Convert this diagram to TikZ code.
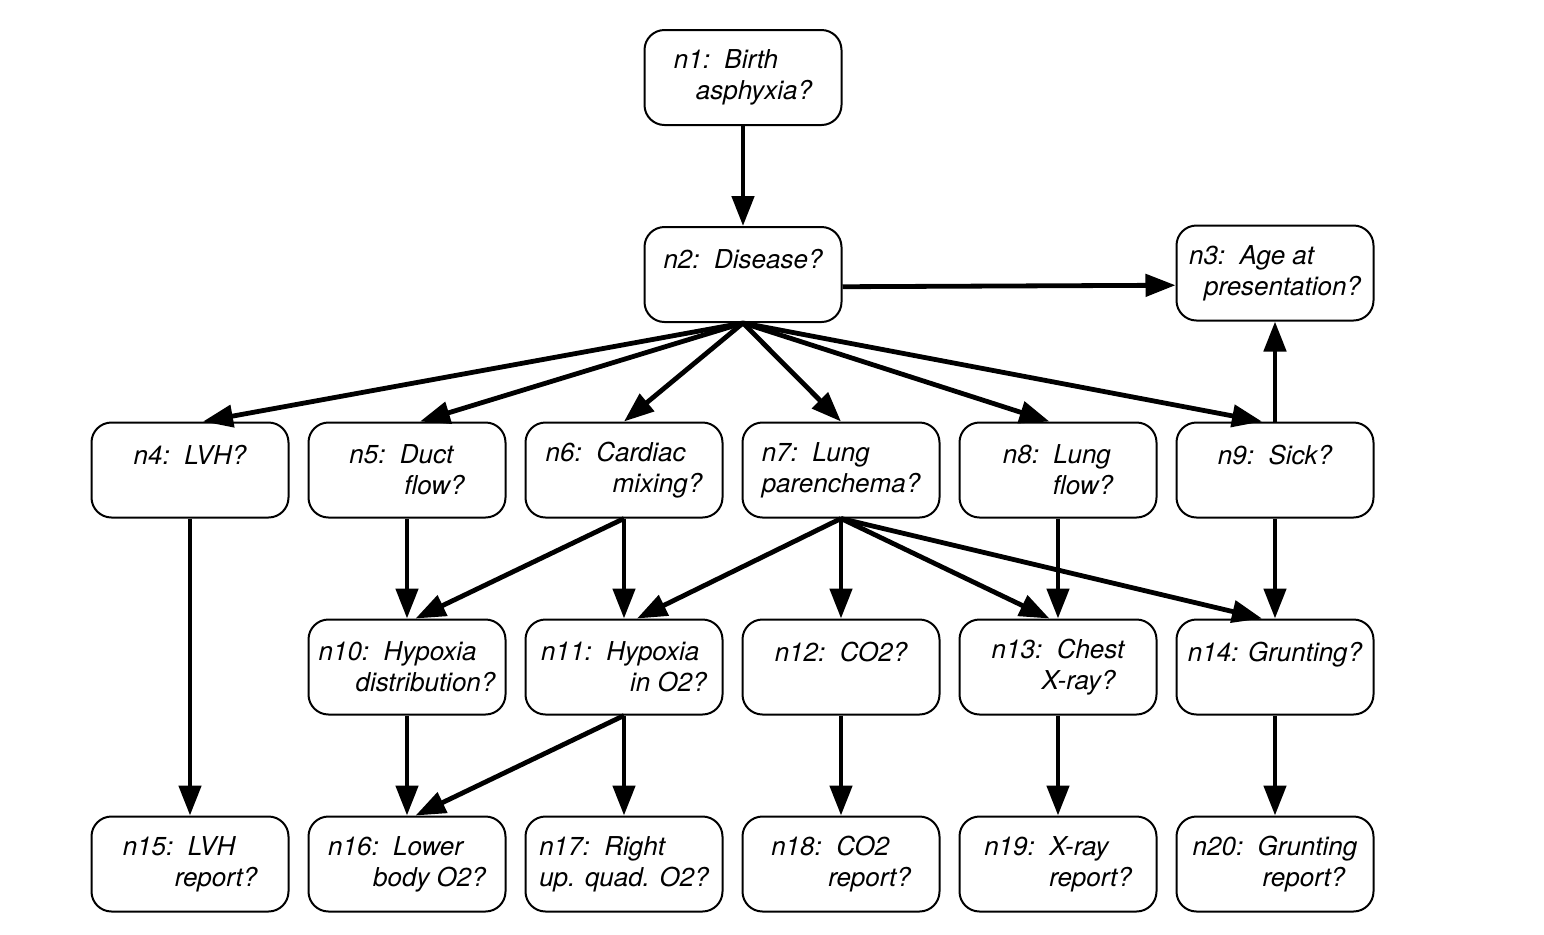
\documentclass[tikz,border=0pt]{standalone}
\usepackage{fontspec}
\setmainfont{TeX Gyre Heros}
\usetikzlibrary{positioning}
\usetikzlibrary{arrows.meta}

\begin{document}
\begin{tikzpicture}[node distance=50pt and 9pt,
    every node/.style={font=\fontsize{13}{15.5}\selectfont\itshape},
    qnode/.style={draw,line width=1pt,rounded corners=10pt,minimum width=98.5pt,minimum height=47.5pt,align=left,inner sep=2pt},
    link/.style={line width=2.4pt,-{Triangle[length=15pt,width=11pt]}}]
	\useasboundingbox (0pt,0pt) rectangle (772pt,-467pt);
	% top of the network
	\node[qnode] (n1) at (371.5pt,-38.75pt) {n1:~~Birth\\\hspace*{11pt}asphyxia?};
	\node[qnode,below=of n1] (n2) {n2:~~Disease?\\\mbox{}};
	% middle row
	\node[qnode] (n4) at (95pt,-235pt) {n4:~~LVH?\\\mbox{}};
	\node[qnode,right=of n4] (n5) {n5:~~Duct\\\hspace*{27.5pt}flow?};
	\node[qnode,right=of n5] (n6) {n6:~~Cardiac\\\hspace*{33.5pt}mixing?};
	\node[qnode,right=of n6] (n7) {n7:~~Lung\\parenchema?};
	\node[qnode,right=of n7] (n8) {n8:~~Lung\\\hspace*{25pt}flow?};
	\node[qnode,right=of n8] (n9) {n9:~~Sick?\\\mbox{}};
	\node[qnode,above=of n9] (n3) {n3:~~Age at\\\hspace*{7.5pt}presentation?};
	% findings
	\node[qnode,below=of n5] (n10) {n10:~~Hypoxia\\\hspace*{18.5pt}distribution?};
	\node[qnode,right=of n10] (n11) {n11:~~Hypoxia\\\hspace*{44.5pt}in O2?};
	\node[qnode,right=of n11] (n12) {n12:~~CO2?\\\mbox{}};
	\node[qnode,right=of n12] (n13) {n13:~~Chest\\\hspace*{25pt}X-ray?};
	\node[qnode,right=of n13] (n14) {n14: Grunting?\\\mbox{}};
	% reports
	\node[qnode,below=of n10] (n16) {n16:~~Lower\\\hspace*{22.5pt}body O2?};
	\node[qnode,left=of n16] (n15) {n15:~~LVH\\\hspace*{26pt}report?};
	\node[qnode,right=of n16] (n17) {n17:~~Right\\up. quad. O2?};
	\node[qnode,right=of n17] (n18) {n18:~~CO2\\\hspace*{28.5pt}report?};
	\node[qnode,right=of n18] (n19) {n19:~~X-ray\\\hspace*{32.5pt}report?};
	\node[qnode,right=of n19] (n20) {n20:~~Grunting\\\hspace*{35pt}report?};
	% links
	\draw[link] (n1) -- (n2);
	\draw[link] (n2.-7) -- (n3.-173);
	\draw[link] (n2.south) -- (n4.75);
	\draw[link] (n2.south) -- (n5.75);
	\draw[link] (n2.south) -- (n6.north);
	\draw[link] (n2.south) -- (n7.north);
	\draw[link] (n2.south) -- (n8.100);
	\draw[link] (n2.south) -- (n9.105);
	\draw[link] (n9) -- (n3);
	\draw[link] (n4) -- (n15);
	\draw[link] (n5) -- (n10);
	\draw[link] (n6.south) -- (n10.80);
	\draw[link] (n6) -- (n11);
	\draw[link] (n7.south) -- (n11.75);
	\draw[link] (n7) -- (n12);
	\draw[link] (n7.south) -- (n13.100);
	\draw[link] (n7.south) -- (n14.105);
	\draw[link] (n8) -- (n13);
	\draw[link] (n9) -- (n14);
	\draw[link] (n10) -- (n16);
	\draw[link] (n11.south) -- (n16.80);
	\draw[link] (n11) -- (n17);
	\draw[link] (n12) -- (n18);
	\draw[link] (n13) -- (n19);
	\draw[link] (n14) -- (n20);
\end{tikzpicture}
\end{document}
